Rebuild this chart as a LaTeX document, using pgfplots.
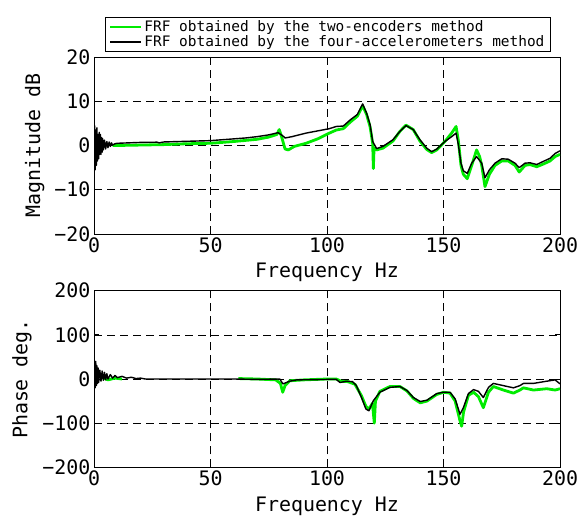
\documentclass[border=0pt]{standalone}
\usepackage{pgfplots}
\pgfplotsset{compat=1.18}
\usepackage{fontspec}
\setmainfont{DejaVu Sans Mono}

\definecolor{frfgreen}{RGB}{0,235,0}

\pgfplotsset{
  frfaxis/.style={
    scale only axis,
    width=466bp,
    xmin=0, xmax=200,
    xtick={0,50,100,150,200},
    xticklabels={0,50,100,150,200},
    grid=major,
    major grid style={black, line width=0.5bp, dash pattern=on 8bp off 5bp},
    axis line style={black, line width=0.8bp},
    tick align=inside,
    major tick length=5bp,
    tick style={black, line width=0.8bp},
    ticklabel style={font=\fontsize{20}{23}\selectfont},
    label style={font=\fontsize{20}{23}\selectfont},
    xlabel={Frequency Hz},
    xlabel style={at={(axis description cs:0.5,0)}, anchor=base, yshift=-44bp},
  },
  greenline/.style={frfgreen, line width=2.8bp, line join=round},
  blackline/.style={black, line width=1.4bp, line join=round},
}

\begin{document}
\begin{tikzpicture}
\path[use as bounding box] (0,0) rectangle (585bp,521bp);

% ---------------- magnitude ----------------
\begin{axis}[
  frfaxis,
  at={(94bp,287bp)}, anchor=south west,
  height=177bp,
  ymin=-20, ymax=20,
  ytick={-20,-10,0,10,20},
  yticklabels={−20,−10,0,10,20},
  ylabel={Magnitude dB},
  ylabel style={at={(axis description cs:-0.127,0.5)}, anchor=center},
  legend style={
    at={(0.502,1.03)}, anchor=south,
    draw=black, line width=0.8bp, fill=white,
    font=\fontsize{14.5}{17}\selectfont,
    inner xsep=4bp, inner ysep=1bp,
    row sep=-1bp,
  },
  legend cell align=left,
  legend image code/.code={\draw[#1, line width=2bp] (0bp,0bp) -- (31bp,0bp);},
]
\addplot[greenline] coordinates {
(8,0.0) (10,0.0) (20,0.1) (30,0.2) (40,0.4) (50,0.5) (60,0.9) (70,1.4) (75,1.9)
(78.5,2.5) (79.5,3.6) (80.5,2.0) (82,-0.8) (83.4,-1.0) (86,-0.2) (91,0.5) (96,1.5)
(101,2.8) (104,3.5) (107,3.8) (110,5.3) (113,6.6) (115.3,9.0) (117,7.0) (118.5,4.2)
(119.6,0.5) (119.9,-5.2) (120.2,-0.5) (121.3,-1.0) (124,-0.6) (128.3,1.0) (131.3,3.2)
(133.9,4.6) (137,3.6) (139.9,1.0) (142.8,-0.9) (144.9,-1.6) (147.1,-1.0) (150.6,0.9)
(153.5,2.8) (155.4,4.3) (156.4,1.0) (157.5,-4.5) (158.5,-6.5) (160.2,-7.5) (162.1,-4.5)
(164.2,-1.0) (165.5,-2.5) (166.4,-4.5) (167.8,-9.3) (169.7,-6.5) (172.1,-4.5) (175,-3.5)
(177.8,-3.5) (180.7,-4.5) (182.5,-6.0) (185,-4.5) (187.1,-4.3) (190,-4.8) (192.8,-4.2)
(195.7,-3.5) (197.9,-2.5) (200,-2.0)
};
\addlegendentry{FRF obtained by the two-encoders method}
\addplot[blackline] coordinates {
(0,0) (0.25,4.5) (0.5,-5.5) (0.75,3.5) (1.0,-4.5) (1.25,4.0) (1.5,-3.5) (1.75,2.5)
(2.0,-3.0) (2.25,3.0) (2.5,-2.0) (2.75,2.5) (3.0,-2.0) (3.25,1.8) (3.5,-1.5) (3.75,1.5)
(4.0,-1.0) (4.5,1.2) (5.0,-0.8) (5.5,0.9) (6.0,-0.5) (6.5,0.8) (7.0,-0.2) (7.5,0.6)
(8.0,0.1) (9,0.4) (10,0.5) (15,0.6) (20,0.7) (27,0.75) (28,0.6) (30,0.8) (40,0.95)
(50,1.1) (60,1.5) (65,1.7) (70,2.0) (75,2.4) (79,2.9) (81,2.2) (82,1.7) (85,2.0)
(91,2.8) (96,3.3) (101,3.8) (104,4.3) (107,4.4) (110,5.8) (113,7.0) (115.3,9.4)
(117,7.3) (118.5,4.7) (119.6,0.9) (121.3,-0.7) (124,-0.2) (128.3,1.3) (131.3,3.2)
(133.9,4.5) (137,3.6) (139.9,1.3) (142.8,-0.6) (144.9,-1.4) (147.1,-0.8) (150.6,0.9)
(153.5,2.0) (155.4,2.8) (156.4,0.1) (157.5,-4) (158.5,-5.7) (160.2,-6.3) (162.1,-4)
(164.2,-2.5) (166.4,-4) (167.8,-7.3) (169.7,-5.5) (172.1,-4) (175,-3) (177.8,-3.1)
(180.7,-4) (182.5,-5) (185,-4) (187.1,-3.9) (190,-4.3) (192.8,-3.6) (195.7,-2.9)
(197.9,-1.8) (200,-1.2)
};
\addlegendentry{FRF obtained by the four-accelerometers method}
\end{axis}

% ---------------- phase ----------------
\begin{axis}[
  frfaxis,
  at={(94bp,53.7bp)}, anchor=south west,
  height=176.6bp,
  ymin=-200, ymax=200,
  ytick={-200,-100,0,100,200},
  yticklabels={−200,−100,0,100,200},
  ylabel={Phase deg.},
  ylabel style={at={(axis description cs:-0.1545,0.5)}, anchor=center},
]
\addplot[greenline] coordinates {
(3,5) (6,-2) (9,2) (12,0)
};
\addplot[greenline] coordinates {
(62,1) (70,0) (78,-2) (80,-10) (81,-30) (82,-15) (84,-4) (90,-2) (100,0) (104,0)
(106,-5) (109,-6) (112,-12) (114.8,-38) (116.7,-62) (118,-68) (119.5,-55) (120.3,-100)
(120.8,-50) (122.7,-28) (127,-17) (131.3,-17) (134.3,-27) (137.1,-44) (140,-54)
(142.9,-50) (147.1,-35) (150,-30) (152.8,-32) (155,-50) (157.1,-95) (157.8,-107)
(158.6,-75) (160.7,-37) (162.9,-30) (165,-40) (167.1,-65) (169.3,-30) (171.4,-17)
(175.7,-25) (180,-32) (182.8,-25) (184.3,-20) (188.6,-25) (194.3,-22) (197.9,-25)
(200,-22)
};
\addplot[blackline] coordinates {
(0,0) (0.25,35) (0.5,-20) (0.75,40) (1.0,-15) (1.25,30) (1.5,-10) (1.75,25) (2.0,-8)
(2.5,20) (3.0,-5) (3.5,18) (4,-3) (4.5,15) (5,-2) (5.5,12) (6,0) (7,10) (8,2) (9,8)
(10,3) (12,6) (14,2) (16,4) (18,1) (20,2) (22,0) (30,0) (50,0) (60,0) (70,-1)
(79.7,0) (81.1,-11) (84,-5) (87,-2) (100,-1) (104,-1) (105.6,-8) (108.3,-5) (111,-6)
(112.6,-15) (114.8,-42) (116.7,-68) (118,-72) (119.9,-49) (122.7,-30) (127,-19)
(131.3,-17) (134.3,-26) (137.1,-42) (140,-51) (142.9,-48) (147.1,-33) (150,-30)
(152.8,-30) (155,-45) (157.1,-80) (158.6,-64) (160.7,-33) (162.9,-24) (165,-28)
(167.1,-42) (169.3,-19) (171.4,-10) (175.7,-15) (180,-20) (182.8,-15) (184.3,-10)
(188.6,-10) (194.3,-5) (197.9,-2) (200,-11)
};
\end{axis}
\end{tikzpicture}
\end{document}
